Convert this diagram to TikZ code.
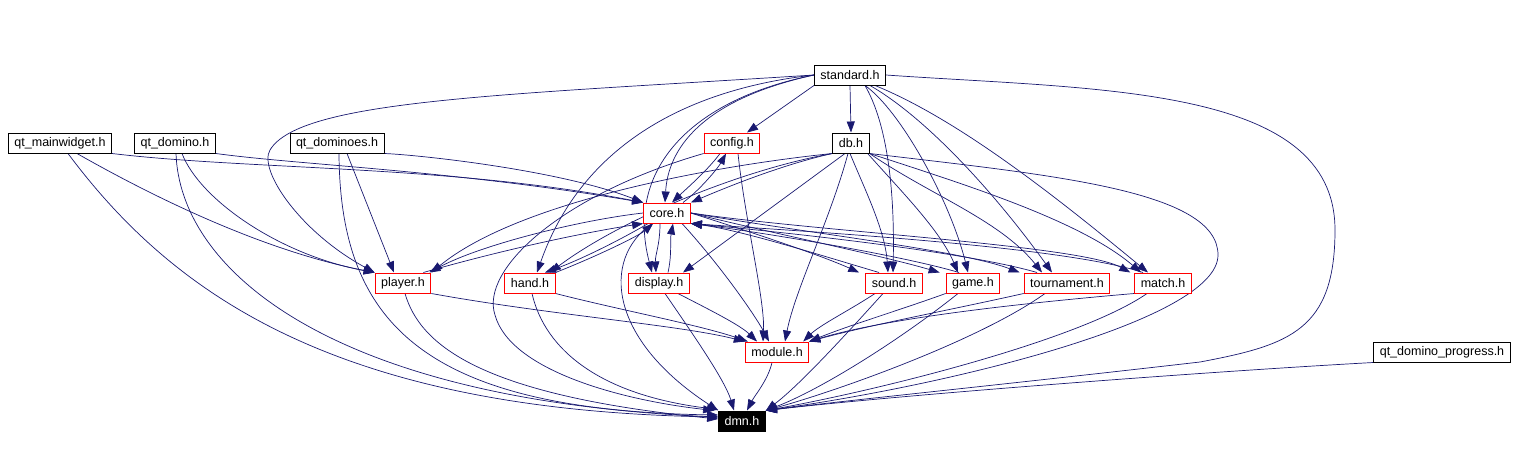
\documentclass[tikz,border=0pt]{standalone}
\usepackage{fontspec}
\setmainfont{Liberation Sans}
\usetikzlibrary{arrows.meta,backgrounds}
\definecolor{depblue}{RGB}{25,25,112}
\begin{document}
\begin{tikzpicture}[x=1pt,y=-1pt,
		file/.style={draw=black,fill=white,line width=1pt,inner xsep=6pt,inner ysep=0pt,minimum height=20pt,font=\fontsize{12.5}{15}\selectfont},
		redfile/.style={file,draw=red},
		dep/.style={depblue,line width=0.7pt,-{Triangle[length=11pt,width=8pt]}}]
		\useasboundingbox (0,0) rectangle (1516,448);
		% files
		\node[file] (standard) at (850,75) {standard.h};
		\node[file] (qtmain) at (60,143) {qt\_mainwidget.h};
		\node[file] (qtdomino) at (175,143) {qt\_domino.h};
		\node[file] (qtdominoes) at (337,143) {qt\_dominoes.h};
		\node[redfile] (config) at (732,143) {config.h};
		\node[file] (db) at (851,143) {db.h};
		\node[redfile] (core) at (667,213) {core.h};
		\node[redfile] (player) at (403,283) {player.h};
		\node[redfile] (hand) at (530,283) {hand.h};
		\node[redfile] (display) at (659,283) {display.h};
		\node[redfile] (sound) at (894,283) {sound.h};
		\node[redfile] (game) at (973,283) {game.h};
		\node[redfile] (tourn) at (1067,283) {tournament.h};
		\node[redfile] (match) at (1163,283) {match.h};
		\node[redfile] (module) at (777,352) {module.h};
		\node[file,fill=black,text=white] (dmn) at (742,421) {dmn.h};
		\node[file] (qtprog) at (1442,352) {qt\_domino\_progress.h};
		\begin{pgfonlayer}{background}
		% standard.h
		\draw[dep] (standard.west) .. controls (500,95) and (300,100) .. (270,150) .. controls (258,170) and (300,232) .. (player.north west);
		\draw[dep] (standard.west) .. controls (680,90) and (580,150) .. ([xshift=7pt]hand.north);
		\draw[dep] (standard.west) .. controls (690,100) and (625,170) .. ([xshift=-7pt]display.north);
		\draw[dep] (standard.west) .. controls (700,100) and (668,150) .. ([xshift=-2pt]core.north);
		\draw[dep] (standard.south west) -- ([xshift=15pt]config.north);
		\draw[dep] (standard.south) -- (db.north);
		\draw[dep] ([xshift=15pt]standard.south) .. controls (885,120) and (895,180) .. ([xshift=-1pt]sound.north);
		\draw[dep] ([xshift=15pt]standard.south) .. controls (900,110) and (950,200) .. ([xshift=-5pt]game.north);
		\draw[dep] ([xshift=20pt]standard.south) .. controls (930,120) and (1000,200) .. ([xshift=-15pt]tourn.north);
		\draw[dep] ([xshift=25pt]standard.south) .. controls (960,120) and (1060,200) .. ([xshift=-15pt]match.north);
		\draw[dep] (standard.east) .. controls (1100,90) and (1335,85) .. (1335,230) .. controls (1335,330) and (1290,345) .. (1200,362) .. controls (1000,385) and (850,400) .. (dmn.north east);
		% db.h
		\draw[dep] (db.south west) .. controls (780,165) and (720,190) .. (core.north east);
		\draw[dep] (db.south west) .. controls (720,165) and (520,200) .. (player.north east);
		\draw[dep] (db.south west) .. controls (740,170) and (620,220) .. ([xshift=20pt]hand.north);
		\draw[dep] ([xshift=-6pt]db.south) -- ([xshift=24pt]display.north);
		\draw[dep] ([xshift=-3pt]db.south) .. controls (830,220) and (795,290) .. ([xshift=8pt]module.north);
		\draw[dep] ([xshift=-1pt]db.south) .. controls (865,190) and (885,230) .. ([xshift=-6pt]sound.north);
		\draw[dep] ([xshift=-2pt]db.south east) .. controls (900,190) and (940,230) .. ([xshift=-15pt]game.north);
		\draw[dep] (db.south east) .. controls (930,195) and (1000,220) .. ([xshift=-25pt]tourn.north);
		\draw[dep] (db.south east) .. controls (960,183) and (1080,220) .. ([xshift=-22pt]match.north);
		\draw[dep] (db.south east) .. controls (1050,175) and (1218,190) .. (1218,255) .. controls (1218,320) and (950,385) .. (dmn.north east);
		% config.h
		\draw[dep] ([xshift=-12pt]config.south) .. controls (708,170) and (685,190) .. ([xshift=5pt]core.north);
		\draw[dep] ([xshift=16pt]core.north) .. controls (700,190) and (718,168) .. ([xshift=-6pt]config.south);
		\draw[dep] ([xshift=6pt]config.south) .. controls (745,220) and (765,300) .. ([xshift=-14pt]module.north);
		\draw[dep] (config.south west) .. controls (560,195) and (480,270) .. (495,315) .. controls (510,370) and (620,400) .. ([xshift=-4pt]dmn.north west);
		% qt files
		\draw[dep] (qtmain.south east) .. controls (250,170) and (450,165) .. (core.north west);
		\draw[dep] (qtdomino.south east) .. controls (300,165) and (450,170) .. (core.north west);
		\draw[dep] (qtdominoes.south east) .. controls (420,155) and (560,170) .. (core.north west);
		\draw[dep] ([xshift=17pt]qtmain.south) .. controls (150,195) and (260,250) .. (player.north west);
		\draw[dep] ([xshift=7pt]qtdomino.south) .. controls (200,200) and (280,255) .. (player.north west);
		\draw[dep] ([xshift=10pt]qtdominoes.south) -- ([xshift=-9pt]player.north);
		\draw[dep] ([xshift=8pt]qtmain.south) .. controls (170,290) and (330,410) .. ([yshift=4pt]dmn.west);
		\draw[dep] ([xshift=1pt]qtdomino.south) .. controls (180,270) and (330,400) .. ([yshift=4pt]dmn.west);
		\draw[dep] ([xshift=2pt]qtdominoes.south) .. controls (340,320) and (420,410) .. ([yshift=6pt]dmn.west);
		\draw[dep] (qtprog.south west) .. controls (1200,372) and (900,395) .. (dmn.north east);
		% core.h both ways
		\draw[dep] (core.west) .. controls (580,220) and (480,245) .. ([xshift=-2pt]player.north east);
		\draw[dep] ([xshift=-8pt]player.north east) .. controls (520,245) and (600,230) .. (core.south west);
		\draw[dep] ([xshift=5pt]core.south west) .. controls (620,240) and (580,260) .. ([xshift=15pt]hand.north);
		\draw[dep] (hand.north east) .. controls (600,255) and (640,235) .. ([xshift=10pt]core.south west);
		\draw[dep] ([xshift=-7pt]core.south) .. controls (660,245) and (655,255) .. ([xshift=-3pt]display.north);
		\draw[dep] ([xshift=9pt]display.north) .. controls (672,255) and (670,240) .. ([xshift=6pt]core.south);
		\draw[dep] (core.east) .. controls (760,235) and (820,255) .. ([xshift=-6pt]sound.north west);
		\draw[dep] ([xshift=-15pt]sound.north) .. controls (820,255) and (740,230) .. (core.south east);
		\draw[dep] (core.east) .. controls (780,235) and (880,255) .. ([xshift=-6pt]game.north west);
		\draw[dep] ([xshift=-14pt]game.north) .. controls (900,255) and (760,232) .. (core.south east);
		\draw[dep] (core.east) .. controls (800,232) and (960,250) .. ([xshift=-4pt]tourn.north west);
		\draw[dep] ([xshift=-30pt]tourn.north) .. controls (960,250) and (760,230) .. (core.south east);
		\draw[dep] (core.east) .. controls (820,232) and (1080,245) .. ([xshift=-4pt]match.north west);
		\draw[dep] ([xshift=-20pt]match.north) .. controls (1060,245) and (780,230) .. (core.south east);
		\draw[dep] ([xshift=15pt]core.south) .. controls (720,265) and (755,315) .. ([xshift=-8pt]module.north);
		\draw[dep] ([xshift=-15pt]core.south) .. controls (600,260) and (610,340) .. (dmn.north west);
		% to module.h
		\draw[dep] (player.south east) .. controls (550,315) and (680,325) .. (module.north west);
		\draw[dep] (hand.south east) .. controls (620,310) and (700,325) .. ([xshift=3pt]module.north west);
		\draw[dep] ([xshift=19pt]display.south) .. controls (710,310) and (740,325) .. ([xshift=-20pt]module.north);
		\draw[dep] ([xshift=-19pt]sound.south) .. controls (850,310) and (820,325) .. ([xshift=-6pt]module.north east);
		\draw[dep] (game.south west) .. controls (900,310) and (850,325) .. (module.north east);
		\draw[dep] (tourn.south west) .. controls (950,310) and (870,325) .. (module.north east);
		\draw[dep] (match.south west) .. controls (1000,305) and (880,320) .. (module.north east);
		% to dmn.h
		\draw[dep] ([xshift=-5pt]module.south) .. controls (768,380) and (755,395) .. ([xshift=5pt]dmn.north);
		\draw[dep] ([xshift=2pt]player.south) .. controls (420,345) and (480,395) .. ([yshift=2pt]dmn.west);
		\draw[dep] ([xshift=2pt]hand.south) .. controls (545,350) and (600,395) .. ([yshift=1pt]dmn.north west);
		\draw[dep] ([xshift=6pt]display.south) .. controls (690,330) and (725,380) .. ([xshift=-8pt]dmn.north);
		\draw[dep] ([xshift=-11pt]sound.south) .. controls (850,330) and (800,385) .. (dmn.north east);
		\draw[dep] ([xshift=-15pt]game.south) .. controls (900,340) and (820,390) .. (dmn.north east);
		\draw[dep] ([xshift=-22pt]tourn.south) .. controls (980,340) and (840,390) .. (dmn.north east);
		\draw[dep] ([xshift=-16pt]match.south) .. controls (1080,340) and (880,390) .. (dmn.north east);
		\end{pgfonlayer}
	\end{tikzpicture}
\end{document}
